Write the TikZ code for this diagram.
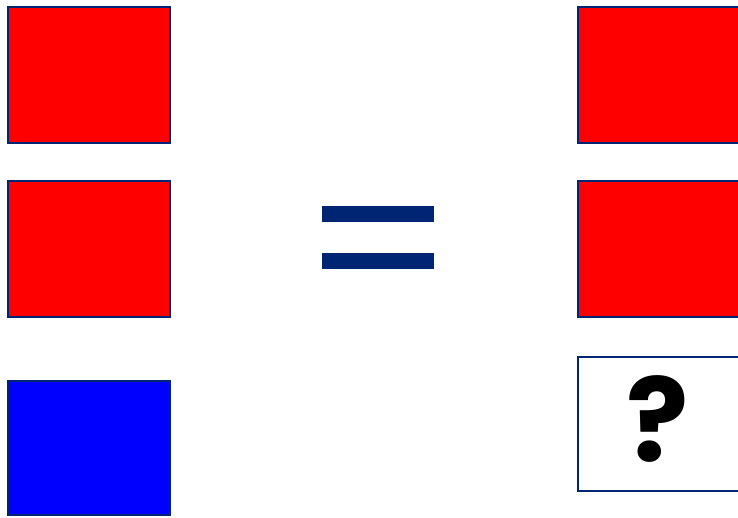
\documentclass[tikz,border=0pt]{standalone}
\usepackage{fontspec}
\setmainfont{Poppins}
\definecolor{navy}{HTML}{002673}
\definecolor{bred}{HTML}{FF0000}
\definecolor{bblue}{HTML}{0000FF}
\tikzset{
  cell/.style={draw=navy, line width=2pt},
  bar/.style={fill=navy, draw=none}
}
\begin{document}
\begin{tikzpicture}[x=1pt,y=-1pt]
\useasboundingbox (0,0) rectangle (738,517);
\clip (0,0) rectangle (738,517);
% left column
\filldraw[cell, fill=bred] (8,7) rectangle (170,143);
\filldraw[cell, fill=bred] (8,181) rectangle (170,317);
\filldraw[cell, fill=bblue] (8,381) rectangle (170,515);
% equal sign
\fill[bar] (322,206) rectangle (434,222);
\fill[bar] (322,252.5) rectangle (434,268.5);
% right column
\filldraw[cell, fill=bred] (578,7) rectangle (745,143);
\filldraw[cell, fill=bred] (578,181) rectangle (745,317);
\filldraw[cell, fill=white] (578,357) rectangle (745,491);
\node[inner sep=0pt, anchor=center] (q) at (658,418.5) {\fontsize{116}{116}\selectfont\bfseries ?};
\end{tikzpicture}
\end{document}
